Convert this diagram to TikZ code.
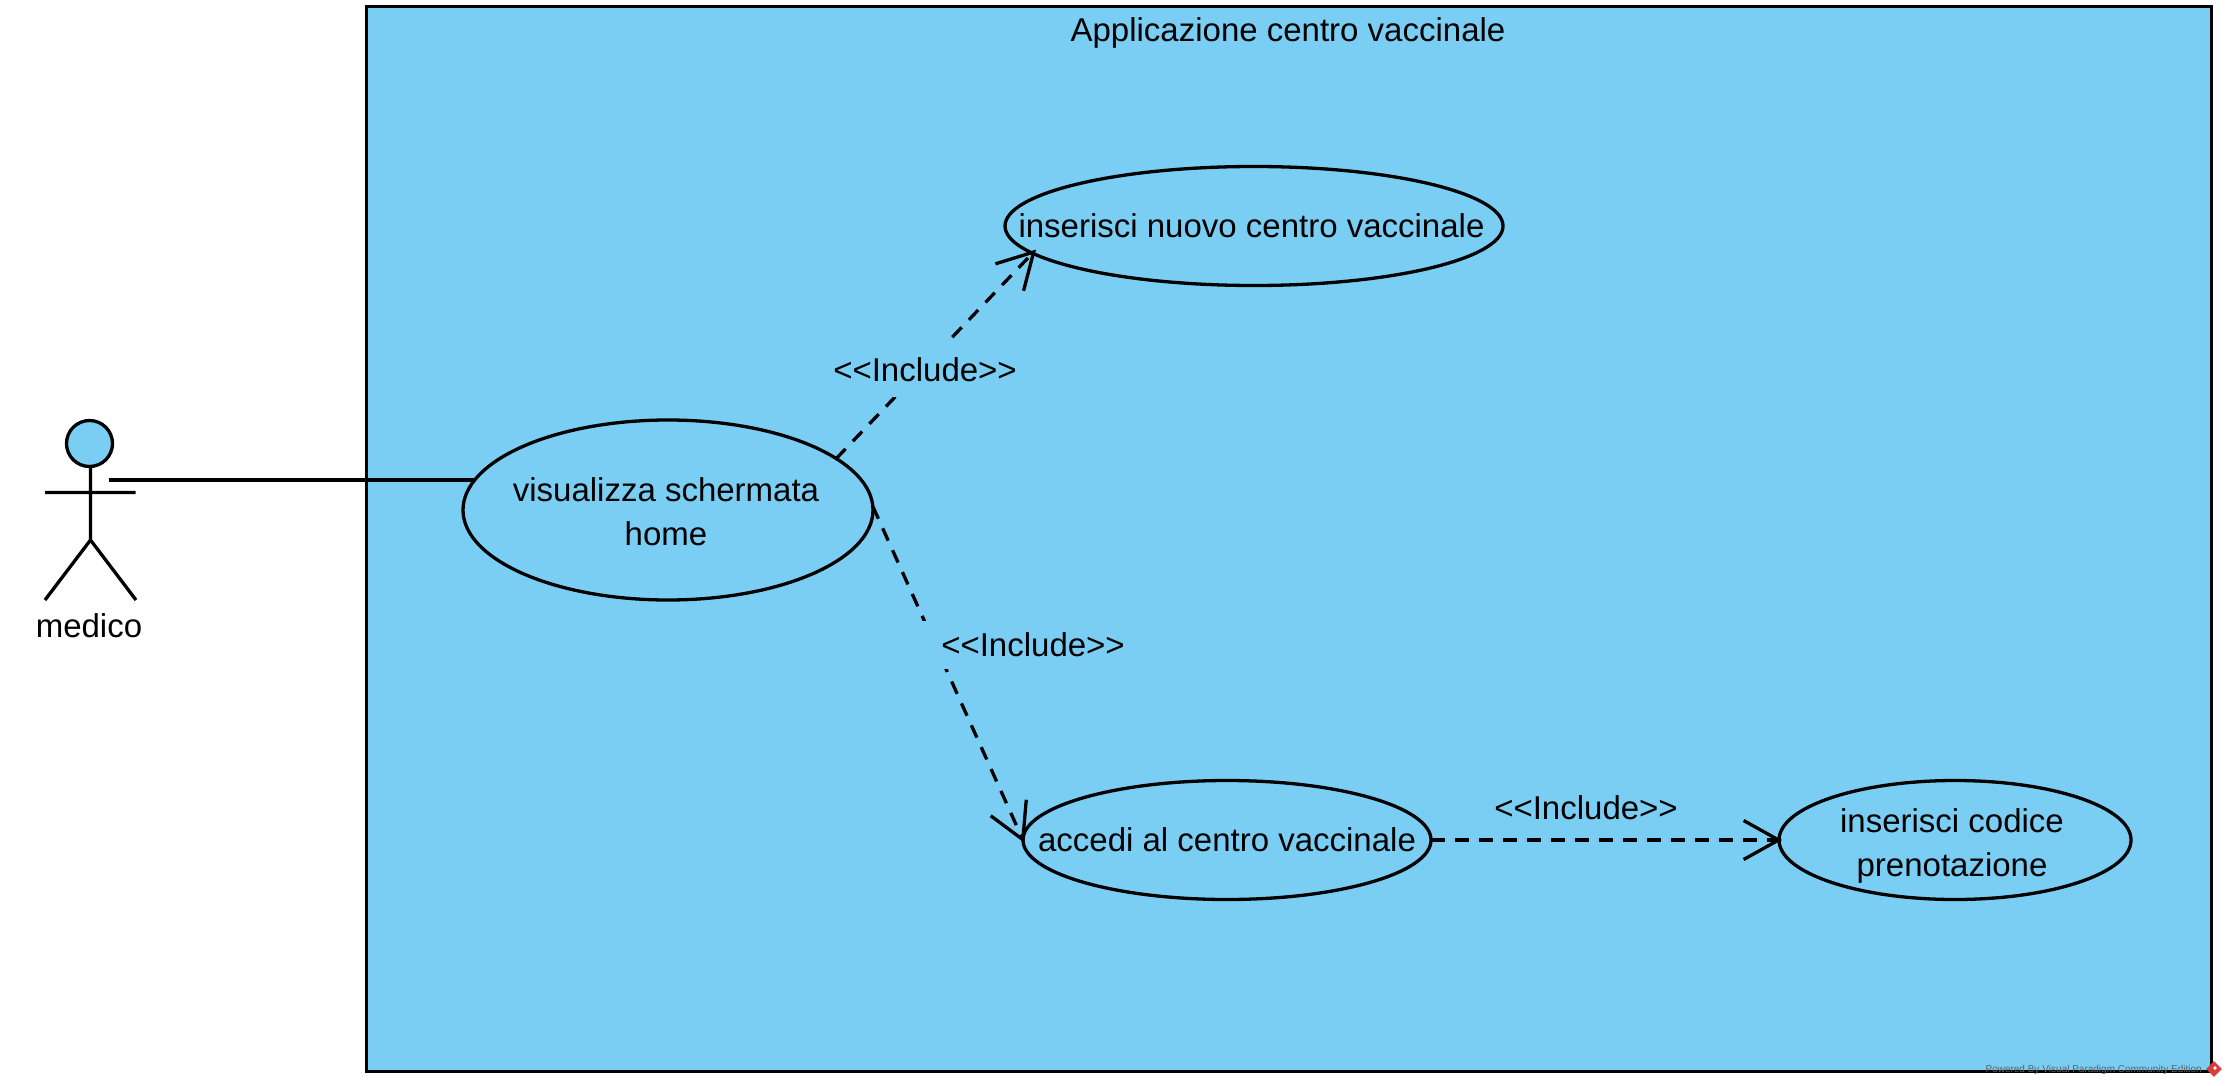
\documentclass[tikz,border=0pt]{standalone}
\usepackage{fontspec}
\setmainfont{Liberation Sans}
\usetikzlibrary{shapes.geometric,arrows.meta}
\definecolor{vpblue}{RGB}{122,206,244}
\definecolor{vpred}{RGB}{214,62,62}
\tikzset{
  ln/.style={line width=3.3pt,draw=black},
  uc/.style={ellipse,ln,fill=vpblue,inner sep=0pt,outer sep=0pt},
  txt/.style={font=\fontsize{33}{44}\selectfont,align=center,inner sep=0pt,text=black},
  incl/.style={ln,dash pattern=on 13.5pt off 10.5pt,shorten >=-3pt,-{Straight Barb[length=35pt,width=39pt,line width=3.3pt]}},
  incllabel/.style={txt,fill=vpblue},
  wm/.style={font=\fontsize{10}{12}\selectfont,text=black!62,inner sep=0pt}
}
\begin{document}
\begin{tikzpicture}[x=1pt,y=-1pt]
\useasboundingbox (0,0) rectangle (2226,1086);
% system boundary
\node[ln,fill=vpblue,rectangle,inner sep=0pt,outer sep=0pt,minimum width=1845pt,minimum height=1065pt] (sys) at (1289.2,539.2) {};
\node[txt] (title) at (1288,33) {Applicazione centro vaccinale};
% actor
\node[circle,ln,fill=vpblue,inner sep=0pt,outer sep=0pt,minimum size=46pt] (head) at (89.5,443.5) {};
\coordinate (hip) at (90.5,540);
\coordinate (larm) at (45,492.5);
\coordinate (rarm) at (135.5,492.5);
\coordinate (lleg) at (45,600);
\coordinate (rleg) at (136,600);
\coordinate (neck) at (90.5,466.5);
\draw[ln] (neck) -- (hip) (larm) -- (rarm) (lleg) -- (hip) -- (rleg);
\node[txt] (medico) at (89,626) {medico};
\coordinate (hand) at (108.5,480);
% use cases
\node[uc,minimum width=410pt,minimum height=180pt] (vis) at (668,510) {};
\node[uc,minimum width=498pt,minimum height=119pt] (ins) at (1254,226) {};
\node[uc,minimum width=408pt,minimum height=119pt] (acc) at (1227,840) {};
\node[uc,minimum width=352pt,minimum height=119pt] (cod) at (1955,840) {};
\node[txt] at (vis) [xshift=-2pt,yshift=-2pt] {visualizza schermata\\home};
\node[txt] at (ins) [xshift=-2.5pt] {inserisci nuovo centro vaccinale};
\node[txt] at (acc) {accedi al centro vaccinale};
\node[txt] at (cod) [xshift=-3pt,yshift=-5.5pt] {inserisci codice\\prenotazione};
% connectors
\draw[ln] (hand) -- (hand -| vis.171.2);
\draw[incl,shorten >=-5pt] (vis.17.1) -- (ins.187.6);
\draw[incl] (vis.1) -- (acc.west);
\draw[incl] (acc.east) -- (cod.west);
% labels
\node[incllabel,minimum width=190pt,minimum height=54pt] (l1) at (925,370) {<{}<Include>{}>};
\node[incllabel,minimum width=226pt,minimum height=48pt] (l2) at (1033,645) {<{}<Include>{}>};
\node[txt] (l3) at (1586,808) {<{}<Include>{}>};
% watermark
\node[wm,anchor=east] (wmtext) at (2202,1070) {Powered By\hspace{3pt}Visual Paradigm Community Edition};
\node[diamond,fill=vpred,inner sep=0pt,minimum size=16pt] (wmicon) at (2214,1069) {};
\node[diamond,fill=white,inner sep=0pt,minimum size=4pt] (wmdot) at (2215,1068) {};
\end{tikzpicture}
\end{document}
